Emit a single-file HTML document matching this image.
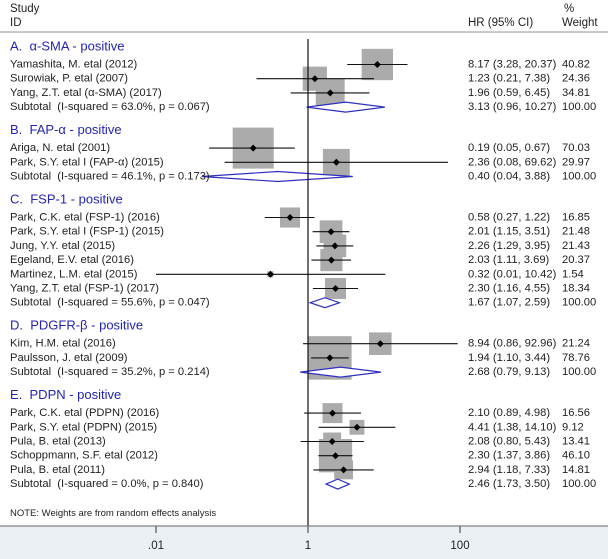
<!DOCTYPE html>
<html><head><meta charset="utf-8"><style>
body{margin:0;background:#fff;}
svg{display:block;font-family:"Liberation Sans",Arial,sans-serif;}
</style></head><body>
<svg id="chart" width="608" height="559" viewBox="0 0 608 559" xmlns="http://www.w3.org/2000/svg">
<rect x="0" y="526" width="608" height="33" fill="#eaf0f4"/>
<text x="10" y="12" font-size="11.5" fill="#222">Study</text>
<text x="10" y="26" font-size="11.5" fill="#222">ID</text>
<text x="468" y="26" font-size="11.5" fill="#222">HR (95% CI)</text>
<text x="564" y="12" font-size="11.5" fill="#222">%</text>
<text x="562" y="26" font-size="11.5" fill="#222">Weight</text>
<line x1="0" y1="32" x2="608" y2="32" stroke="#aaa" stroke-width="1.2"/>
<g id="boxes"></g><g id="lines"></g><g id="texts"></g>
<line x1="0" y1="526" x2="608" y2="526" stroke="#666" stroke-width="1"/>
<text x="10" y="516" font-size="9.5" fill="#222">NOTE: Weights are from random effects analysis</text>
</svg>
<script>
const groupLabels = ["A.\u00a0 α-SMA - positive","B.\u00a0 FAP-α - positive","C.\u00a0 FSP-1 - positive","D.\u00a0 PDGFR-β - positive","E.\u00a0 PDPN - positive"];
const studyNames = [
 ["Yamashita, M. etal (2012)","Surowiak, P. etal (2007)","Yang, Z.T. etal (α-SMA) (2017)"],
 ["Ariga, N. etal (2001)","Park, S.Y. etal I (FAP-α) (2015)"],
 ["Park, C.K. etal (FSP-1) (2016)","Park, S.Y. etal I (FSP-1) (2015)","Jung, Y.Y. etal (2015)","Egeland, E.V. etal (2016)","Martinez, L.M. etal (2015)","Yang, Z.T. etal (FSP-1) (2017)"],
 ["Kim, H.M. etal (2016)","Paulsson, J. etal (2009)"],
 ["Park, C.K. etal (PDPN) (2016)","Park, S.Y. etal (PDPN) (2015)","Pula, B. etal (2013)","Schoppmann, S.F. etal (2012)","Pula, B. etal (2011)"]
];
const hr = [[8.17,1.23,1.96],[0.19,2.36],[0.58,2.01,2.26,2.03,0.32,2.30],[8.94,1.94],[2.10,4.41,2.08,2.30,2.94]];
const lo = [[3.28,0.21,0.59],[0.05,0.08],[0.27,1.15,1.29,1.11,0.01,1.16],[0.86,1.10],[0.89,1.38,0.80,1.37,1.18]];
const hi = [[20.37,7.38,6.45],[0.67,69.62],[1.22,3.51,3.95,3.69,10.42,4.55],[92.96,3.44],[4.98,14.10,5.43,3.86,7.33]];
const weights = [[40.82,24.36,34.81],[70.03,29.97],[16.85,21.48,21.43,20.37,1.54,18.34],[21.24,78.76],[16.56,9.12,13.41,46.10,14.81]];
const subI2 = ["63.0%","46.1%","55.6%","35.2%","0.0%"];
const subP = ["0.067","0.173","0.047","0.214","0.840"];
const subHr = [3.13,0.40,1.67,2.68,2.46];
const subLo = [0.96,0.04,1.07,0.79,1.73];
const subHi = [10.27,3.88,2.59,9.13,3.50];
const xTicks = [0.01,1,100];
const xTickLabels = [".01","1","100"];

const NS="http://www.w3.org/2000/svg";
const X = v => 308 + 76*Math.log10(v);
const boxes=document.getElementById('boxes'), lines=document.getElementById('lines'), texts=document.getElementById('texts');
function mk(p,tag,at){const e=document.createElementNS(NS,tag);for(const k in at)e.setAttribute(k,at[k]);p.appendChild(e);return e;}
function txt(x,y,s,size,fill){const t=mk(texts,'text',{x:x,y:y,'font-size':size,fill:fill,'dominant-baseline':'central'});t.textContent=s;return t;}
const f=v=>v.toFixed(2);
let y=23.5;
groupLabels.forEach((g,gi)=>{
  y+=22.5;
  const gl=txt(10,y,g,13,'#2424b4');
  
  
  y+=18.5;
  studyNames[gi].forEach((n,i)=>{
    const t=txt(10,y,n,11.2,'#222');
    
    
    const s=4.9*Math.sqrt(weights[gi][i]);
    const b=mk(boxes,'rect',{x:X(hr[gi][i])-s/2,y:y-s/2,width:s,height:s,fill:'#ababab'});
    
    
    const l=mk(lines,'line',{x1:X(lo[gi][i]),x2:X(hi[gi][i]),y1:y,y2:y,stroke:'#111','stroke-width':1.1});
    
    
    const c=X(hr[gi][i]);
    const d=mk(lines,'polygon',{points:`${c-3.5},${y} ${c},${y-3.5} ${c+3.5},${y} ${c},${y+3.5}`,fill:'#000'});
    
    
    const h=txt(468,y,`${f(hr[gi][i])} (${f(lo[gi][i])}, ${f(hi[gi][i])})`,11.2,'#222');
    
    
    const w=txt(562,y,f(weights[gi][i]),11.2,'#222');
    
    
    y+=14.2;
  });
  const st=txt(10,y,`Subtotal\u00a0 (I-squared = ${subI2[gi]}, p = ${subP[gi]})`,11.2,'#222');
  
  
  const a=X(subLo[gi]),m=X(subHr[gi]),z=X(subHi[gi]);
  const dm=mk(lines,'polygon',{points:`${a},${y} ${m},${y-5} ${z},${y} ${m},${y+5}`,fill:'#fff',stroke:'#3030c0','stroke-width':1.2});
  
  
  const sh=txt(468,y,`${f(subHr[gi])} (${f(subLo[gi])}, ${f(subHi[gi])})`,11.2,'#222');
  
  
  const sw=txt(562,y,'100.00',11.2,'#222');
  
  
});
const ref=mk(lines,'line',{x1:X(1),x2:X(1),y1:39,y2:526,stroke:'#111','stroke-width':1.2});


xTicks.forEach((v,i)=>{
  const tk=mk(lines,'line',{x1:X(v),x2:X(v),y1:526,y2:533,stroke:'#333','stroke-width':1});
  
  
  const tl=txt(X(v),546,xTickLabels[i],11.5,'#222');
  tl.setAttribute('text-anchor','middle');
  
  
});
</script>
</body></html>
